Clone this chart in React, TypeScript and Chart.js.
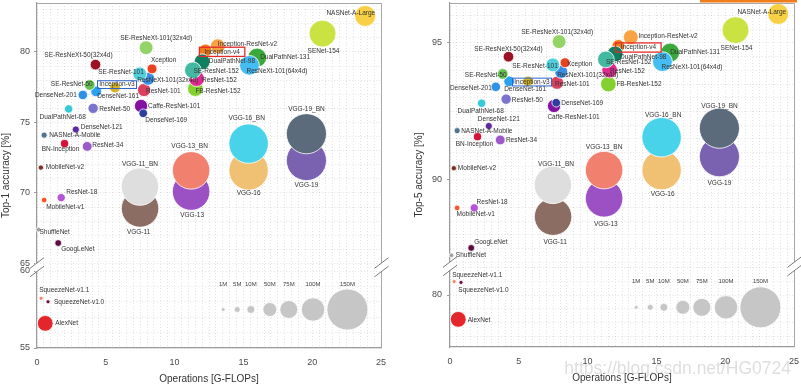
import React, { useEffect, useRef } from 'react';
import { Chart, registerables } from 'chart.js';

Chart.register(...registerables);

const FONT = '"Liberation Sans", Arial, Helvetica, sans-serif';

// ---------- data ----------
const models = [
  'AlexNet', 'SqueezeNet-v1.0', 'SqueezeNet-v1.1', 'ShuffleNet', 'GoogLeNet', 'MobileNet-v1', 'ResNet-18', 'MobileNet-v2',
  'BN-Inception', 'ResNet-34', 'NASNet-A-Mobile', 'DenseNet-121', 'DualPathNet-68', 'ResNet-50', 'DenseNet-201', 'DenseNet-161',
  'SE-ResNet-50', 'Inception-v3', 'SE-ResNeXt-50(32x4d)', 'ResNet-101', 'ResNeXt-101(32x4d)', 'SE-ResNet-101', 'Xception',
  'SE-ResNeXt-101(32x4d)', 'Caffe-ResNet-101', 'DenseNet-169', 'Inception-ResNet-v2', 'Inception-v4', 'DualPathNet-98',
  'FB-ResNet-152', 'ResNet-152', 'SE-ResNet-152', 'DualPathNet-131', 'ResNeXt-101(64x4d)', 'SENet-154', 'NASNet-A-Large',
  'VGG-11', 'VGG-11_BN', 'VGG-13', 'VGG-13_BN', 'VGG-16', 'VGG-16_BN', 'VGG-19', 'VGG-19_BN',
];

const gflops = [
  0.6, 0.8, 0.3, 0.11, 1.54, 0.52, 1.76, 0.28,
  2.0, 3.65, 0.52, 2.82, 2.3, 4.08, 3.33, 4.3,
  3.83, 5.67, 4.25, 7.78, 8.08, 7.47, 8.36,
  7.93, 7.56, 7.72, 13.14, 12.24, 12.0,
  11.51, 11.6, 11.33, 16.0, 15.44, 20.75, 23.85,
  7.49, 7.48, 11.2, 11.2, 15.38, 15.38, 19.58, 19.58,
];

const top1 = [
  56.6, 58.0, 58.23, 67.4, 66.45, 69.5, 69.67, 71.8,
  73.5, 73.3, 74.1, 74.5, 75.96, 76.0, 76.95, 77.2,
  77.66, 77.47, 79.1, 77.3, 78.1, 78.44, 78.8,
  80.3, 76.17, 75.65, 80.4, 80.1, 79.3,
  77.4, 78.1, 78.7, 79.6, 79.05, 81.3, 82.55,
  68.9, 70.45, 70.1, 71.6, 71.6, 73.5, 72.3, 74.2,
];

const top5 = [
  79.11, 80.46, 80.49, 87.25, 87.52, 88.98, 88.98, 90.43,
  91.58, 91.46, 91.8, 91.97, 92.8, 92.95, 93.4, 93.6,
  93.87, 93.6, 94.5, 93.55, 93.95, 94.2, 94.28,
  95.05, 92.7, 92.82, 95.21, 94.89, 94.6,
  93.5, 94.01, 94.4, 94.65, 94.32, 95.47, 96.06,
  88.66, 89.82, 89.33, 90.36, 90.36, 91.56, 90.85, 91.89,
];

const paramsM = [
  61, 1.2, 1.2, 2.3, 7, 4.2, 11.7, 3.5,
  11.3, 21.8, 5.3, 8, 12.6, 25.6, 20, 28.7,
  28.1, 27.2, 27.6, 44.5, 44.2, 49.3, 22.9,
  49, 44.6, 14.1, 55.8, 42.7, 61.6,
  60.2, 60.2, 66.8, 79.3, 83.5, 115.1, 88.9,
  132.9, 132.9, 133, 133, 138.4, 138.4, 143.7, 143.7,
];

// size legend
const legendLabels = ['1M', '5M', '10M', '50M', '75M', '100M', '150M'];
const legendParams = [1, 5, 10, 50, 75, 100, 150];
const legendGflops = [13.53, 14.55, 15.54, 16.92, 18.3, 20.06, 22.56];
const legendTop1 = 57.5;
const legendTop5 = 79.55;

// ---------- styles ----------
const colors = [
  '#e3262b', '#6d0f3c', '#f4866a', '#a0a0a0', '#5a0c3e', '#f2552c', '#b455d6', '#7b2e22',
  '#d5123c', '#9b59c9', '#52738c', '#5b2a9e', '#36c9d8', '#7b74cc', '#2d92e6', '#2ba2ee',
  '#68c251', '#d6b326', '#9c1224', '#d9415f', '#3a8fe3', '#4fd0dc', '#e8421f',
  '#94d466', '#8312a3', '#2f3e9e', '#f8a243', '#f27a17', '#0f7f61',
  '#84d02f', '#df2a8f', '#45b8a1', '#3aa83a', '#45bdf2', '#cbe243', '#f8d046',
  '#8c6d63', '#dedede', '#9b51c4', '#f1806f', '#f0c172', '#48d3ea', '#7b62b1', '#5b6b7b',
];

// radius (px) as a function of parameters (M)
const radiusParamAnchors = [1, 5, 10, 50, 75, 100, 120, 135, 150];
const radiusPxAnchors = [2, 3, 4, 7, 9, 11.7, 14, 19.5, 20.5];
function radiusFor(p: number): number {
  const P = radiusParamAnchors, R = radiusPxAnchors;
  if (p <= P[0]) return R[0];
  for (let k = 1; k < P.length; k++) {
    if (p <= P[k]) return R[k - 1] + (R[k] - R[k - 1]) * (p - P[k - 1]) / (P[k] - P[k - 1]);
  }
  const k = P.length - 1;
  return R[k] + (R[k] - R[k - 1]) * (p - P[k]) / (P[k] - P[k - 1]);
}

type Pos = [number, number, CanvasTextAlign];

const labelPosTop1: Record<string, Pos> = {
  'AlexNet': [10, 0, 'left'],
  'SqueezeNet-v1.0': [6, 0.5, 'left'],
  'SqueezeNet-v1.1': [-2, -8, 'left'],
  'ShuffleNet': [1, 3, 'left'],
  'GoogLeNet': [3, 6, 'left'],
  'MobileNet-v1': [2, 7, 'left'],
  'ResNet-18': [5, -5, 'left'],
  'MobileNet-v2': [5, 0, 'left'],
  'BN-Inception': [-4, 6, 'center'],
  'ResNet-34': [5, -1, 'left'],
  'NASNet-A-Mobile': [5, 0.5, 'left'],
  'DenseNet-121': [5, -2, 'left'],
  'DualPathNet-68': [-6, 8, 'center'],
  'ResNet-50': [6, 0.5, 'left'],
  'DenseNet-201': [-6, 0, 'right'],
  'DenseNet-161': [1, 5, 'left'],
  'SE-ResNet-50': [3, -1, 'right'],
  'Inception-v3': [2, -3, 'center'],
  'SE-ResNeXt-50(32x4d)': [-17, -9, 'center'],
  'ResNet-101': [2, 1, 'left'],
  'ResNeXt-101(32x4d)': [-11, 1, 'left'],
  'SE-ResNet-101': [4, -2, 'right'],
  'Xception': [-1, -9, 'left'],
  'SE-ResNeXt-101(32x4d)': [10, -10, 'center'],
  'Caffe-ResNet-101': [7, 0.5, 'left'],
  'DenseNet-169': [2, 7, 'left'],
  'Inception-ResNet-v2': [0, -2, 'left'],
  'Inception-v4': [16.7, 1.3, 'center'],
  'DualPathNet-98': [6.7, -1, 'left'],
  'FB-ResNet-152': [0, 3, 'left'],
  'ResNet-152': [5.5, 1.7, 'left'],
  'SE-ResNet-152': [0.5, 1, 'left'],
  'DualPathNet-131': [3, 0, 'left'],
  'ResNeXt-101(64x4d)': [-3, 6, 'left'],
  'SENet-154': [1, 18, 'center'],
  'NASNet-A-Large': [10, -3, 'right'],
  'VGG-11': [-1.5, 24, 'center'],
  'VGG-11_BN': [0, -22.7, 'center'],
  'VGG-13': [1, 24, 'center'],
  'VGG-13_BN': [-1.5, -24, 'center'],
  'VGG-16': [0, 23, 'center'],
  'VGG-16_BN': [-2, -25, 'center'],
  'VGG-19': [0, 25, 'center'],
  'VGG-19_BN': [0, -25, 'center'],
};

const labelPosTop5: Record<string, Pos> = {
  'AlexNet': [9.4, 1, 'left'],
  'SqueezeNet-v1.0': [-2.7, 7.7, 'left'],
  'SqueezeNet-v1.1': [-2, -6, 'left'],
  'ShuffleNet': [4.3, 0, 'left'],
  'GoogLeNet': [3, -6, 'left'],
  'MobileNet-v1': [-0.6, 6.7, 'left'],
  'ResNet-18': [2.4, -6, 'left'],
  'MobileNet-v2': [4, 0, 'left'],
  'BN-Inception': [-3, 7.6, 'center'],
  'ResNet-34': [5.7, 0.7, 'left'],
  'NASNet-A-Mobile': [4, 1, 'left'],
  'DenseNet-121': [10, -7, 'center'],
  'DualPathNet-68': [-1, 8, 'center'],
  'ResNet-50': [5.7, 1.4, 'left'],
  'DenseNet-201': [-4, 1.6, 'right'],
  'DenseNet-161': [-5, 8, 'left'],
  'SE-ResNet-50': [4, 1, 'right'],
  'Inception-v3': [4, 0.7, 'center'],
  'SE-ResNeXt-50(32x4d)': [0, -7.4, 'center'],
  'ResNet-101': [-2, 1.6, 'left'],
  'ResNeXt-101(32x4d)': [-4, 3, 'left'],
  'SE-ResNet-101': [5, 1.5, 'right'],
  'Xception': [2, 1, 'left'],
  'SE-ResNeXt-101(32x4d)': [-2, -9.4, 'center'],
  'Caffe-ResNet-101': [-6.6, 10.7, 'left'],
  'DenseNet-169': [5, 0, 'left'],
  'Inception-ResNet-v2': [7.6, -1.3, 'left'],
  'Inception-v4': [20, 1.5, 'center'],
  'DualPathNet-98': [5, 3, 'left'],
  'FB-ResNet-152': [8, 0.3, 'left'],
  'ResNet-152': [0.5, 0.7, 'left'],
  'SE-ResNet-152': [0, 2.7, 'left'],
  'DualPathNet-131': [0, 0, 'left'],
  'ResNeXt-101(64x4d)': [-1, 5.6, 'left'],
  'SENet-154': [1, 18.3, 'center'],
  'NASNet-A-Large': [8, -1.7, 'right'],
  'VGG-11': [2, 25.3, 'center'],
  'VGG-11_BN': [3, -21, 'center'],
  'VGG-13': [1.7, 25.7, 'center'],
  'VGG-13_BN': [0, -23, 'center'],
  'VGG-16': [1, 24, 'center'],
  'VGG-16_BN': [1.5, -22, 'center'],
  'VGG-19': [0, 26.7, 'center'],
  'VGG-19_BN': [0, -22, 'center'],
};

const boxedLabels: Record<string, { color: string; padX: number; padY: number; lw: number }> = {
  'Inception-v3': { color: '#2f64c9', padX: 1.8, padY: 0.5, lw: 1 },
  'Inception-v4': { color: '#e32b2b', padX: 5, padY: 1.2, lw: 1.3 },
};

interface PanelCfg {
  canvasW: number;
  padRight: number;
  yAxisW: number;
  xAxisH: number;
  values: number[];
  split: number;
  upper: [number, number, number];
  lower: [number, number, number];
  weights: [number, number];
  title: string;
  titleX: number;
  xTitleY: number;
  legendY: number;
  labels: Record<string, Pos>;
  tickPad: number;
  extras: boolean;
}

const leftPanel: PanelCfg = {
  canvasW: 392, padRight: 11, yAxisW: 37, xAxisH: 40,
  values: top1, split: 62,
  upper: [64.75, 83.47, 1], lower: [55, 60.26, 1], weights: [264, 81],
  title: 'Top-1 accuracy [%]', titleX: 6.5, xTitleY: 379.5,
  legendY: legendTop1, labels: labelPosTop1, tickPad: 4, extras: false,
};

const rightPanel: PanelCfg = {
  canvasW: 409, padRight: 7, yAxisW: 58, xAxisH: 41,
  values: top5, split: 84,
  upper: [86.86, 96.46, 0.5], lower: [78.1, 81.06, 0.5], weights: [263, 81],
  title: 'Top-5 accuracy [%]', titleX: 27.5, xTitleY: 378.5,
  legendY: legendTop5, labels: labelPosTop5, tickPad: 5, extras: true,
};

function range(a: number, b: number, step: number): number[] {
  const start = Math.ceil(a / step - 1e-9) * step;
  const end = Math.floor(b / step + 1e-9) * step;
  const n = Math.round((end - start) / step);
  const out: number[] = [];
  for (let k = 0; k <= n; k++) out.push(+(start + k * step).toFixed(4));
  return out;
}

const GRID_COLOR = 'rgba(0,0,0,0.11)';
const AXIS_COLOR = '#9a9a9a';
const TICK_COLOR = '#4a4a4a';

function yScale(panel: PanelCfg, which: 'upper' | 'lower') {
  const [min, max, step] = panel[which];
  return {
    type: 'linear',
    position: 'left',
    stack: 'ybreak',
    stackWeight: which === 'upper' ? panel.weights[0] : panel.weights[1],
    weight: which === 'upper' ? 1 : 0,
    min, max,
    afterBuildTicks: (s: any) => { s.ticks = range(min, max, step).map((v) => ({ value: v })); },
    afterFit: (s: any) => {
      s.width = panel.yAxisW;
      s.paddingTop = 0; s.paddingBottom = 0; s.paddingLeft = 0; s.paddingRight = 0;
    },
    ticks: {
      autoSkip: false,
      padding: panel.tickPad,
      color: TICK_COLOR,
      font: { family: FONT, size: 9 },
      callback: (v: number) => (Math.abs(v % 5) < 1e-6 ? String(v) : ''),
    },
    grid: {
      color: GRID_COLOR,
      lineWidth: 1,
      tickLength: 3,
      tickColor: (c: any) => (c.tick && Math.abs(c.tick.value % 5) < 1e-6 ? AXIS_COLOR : 'transparent'),
    },
    border: { color: AXIS_COLOR, width: 1.2, dash: [1, 2] },
  };
}

function drawBreak(ctx: CanvasRenderingContext2D, x: number, y: number) {
  ctx.save();
  ctx.fillStyle = '#ffffff';
  ctx.fillRect(x - 2, y - 4, 4, 8.5);
  ctx.strokeStyle = '#7a7a7a';
  ctx.lineWidth = 1;
  for (const oy of [-4, 4.5]) {
    ctx.beginPath();
    ctx.moveTo(x - 7, y + oy + 5.3);
    ctx.lineTo(x + 7, y + oy - 5.3);
    ctx.stroke();
  }
  ctx.restore();
}

function buildConfig(panel: PanelCfg): any {
  const idx = models.map((_, i) => i);
  const hiIdx = idx.filter((i) => panel.values[i] >= panel.split);
  const loIdx = idx.filter((i) => panel.values[i] < panel.split);
  const toPoint = (i: number) => ({ x: gflops[i], y: panel.values[i], r: radiusFor(paramsM[i]) });

  const decor = {
    id: 'decor',
    afterDatasetsDraw(chart: any) {
      const ctx: CanvasRenderingContext2D = chart.ctx;
      ctx.save();
      ctx.font = `6.5px ${FONT}`;
      ctx.fillStyle = '#333333';
      ctx.textBaseline = 'middle';
      const groups: [number, number[]][] = [[0, hiIdx], [1, loIdx]];
      for (const [di, list] of groups) {
        const meta = chart.getDatasetMeta(di);
        meta.data.forEach((el: any, k: number) => {
          const name = models[list[k]];
          const pos = panel.labels[name] || [5, 0, 'left'];
          const [dx, dy, align] = pos;
          const tx = el.x + dx, ty = el.y + dy;
          ctx.textAlign = align;
          ctx.fillStyle = '#333333';
          ctx.fillText(name, tx, ty);
          const box = boxedLabels[name];
          if (box) {
            const w = ctx.measureText(name).width;
            const left = align === 'center' ? tx - w / 2 : align === 'right' ? tx - w : tx;
            ctx.strokeStyle = box.color;
            ctx.lineWidth = box.lw;
            ctx.strokeRect(left - box.padX, ty - 3.4 - box.padY, w + 2 * box.padX, 6.8 + 2 * box.padY);
          }
        });
      }
      // size legend labels
      const lmeta = chart.getDatasetMeta(2);
      ctx.font = `6px ${FONT}`;
      ctx.fillStyle = '#444444';
      ctx.textAlign = 'center';
      lmeta.data.forEach((el: any, k: number) => {
        ctx.fillText(legendLabels[k], el.x, el.y - 25.5);
      });
      ctx.restore();
    },
    afterDraw(chart: any) {
      const ctx: CanvasRenderingContext2D = chart.ctx;
      const a = chart.chartArea;
      ctx.save();
      // top & right frame
      ctx.strokeStyle = '#a8a8a8';
      ctx.lineWidth = 1;
      ctx.beginPath();
      ctx.moveTo(a.left, a.top + 0.5);
      ctx.lineTo(a.right + 0.5, a.top + 0.5);
      ctx.lineTo(a.right + 0.5, a.bottom);
      ctx.stroke();
      // axis breaks
      const yb = chart.scales.yHigh.bottom;
      drawBreak(ctx, a.left, yb);
      drawBreak(ctx, a.right + 0.5, yb);
      // titles
      ctx.fillStyle = '#333333';
      ctx.font = `10px ${FONT}`;
      ctx.textAlign = 'center';
      ctx.textBaseline = 'middle';
      ctx.fillText('Operations [G-FLOPs]', (a.left + a.right) / 2, panel.xTitleY);
      ctx.save();
      ctx.translate(panel.titleX, (a.top + a.bottom) / 2);
      ctx.rotate(-Math.PI / 2);
      ctx.fillText(panel.title, 0, 0);
      ctx.restore();
      if (panel.extras) {
        ctx.fillStyle = '#f07d1a';
        ctx.fillRect(308, 0, 97, 2.5);
        ctx.font = `17.5px ${FONT}`;
        ctx.fillStyle = 'rgba(160,160,160,0.35)';
        ctx.textAlign = 'right';
        ctx.fillText('https://blog.csdn.net/HG0724', 399, 369);
      }
      ctx.restore();
    },
  };

  return {
    type: 'bubble',
    data: {
      datasets: [
        {
          label: 'high',
          xAxisID: 'x', yAxisID: 'yHigh',
          data: hiIdx.map(toPoint),
          backgroundColor: hiIdx.map((i) => colors[i]),
          borderColor: '#ffffff', borderWidth: 0.8, clip: false,
        },
        {
          label: 'low',
          xAxisID: 'x', yAxisID: 'yLow',
          data: loIdx.map(toPoint),
          backgroundColor: loIdx.map((i) => colors[i]),
          borderColor: '#ffffff', borderWidth: 0.8, clip: false,
        },
        {
          label: 'size legend',
          xAxisID: 'x', yAxisID: 'yLow',
          data: legendGflops.map((g, k) => ({ x: g, y: panel.legendY, r: radiusFor(legendParams[k]) })),
          backgroundColor: '#c6c6c6',
          borderColor: '#ffffff', borderWidth: 0.8, clip: false,
        },
      ],
    },
    options: {
      responsive: false,
      maintainAspectRatio: false,
      animation: false,
      events: [],
      layout: { autoPadding: false, padding: { top: 3, right: panel.padRight, left: 0, bottom: 0 } },
      plugins: { legend: { display: false }, tooltip: { enabled: false } },
      scales: {
        x: {
          type: 'linear', position: 'bottom', min: 0, max: 25,
          afterBuildTicks: (s: any) => { s.ticks = range(0, 25, 0.5).map((v) => ({ value: v })); },
          afterFit: (s: any) => {
            s.height = panel.xAxisH;
            s.paddingTop = 0; s.paddingBottom = 0; s.paddingLeft = 0; s.paddingRight = 0;
          },
          ticks: {
            autoSkip: false, maxRotation: 0, padding: 5,
            color: TICK_COLOR, font: { family: FONT, size: 9 },
            callback: (v: number) => (Math.abs(v % 5) < 1e-6 ? String(v) : ''),
          },
          grid: { color: GRID_COLOR, lineWidth: 1, tickLength: 4, tickColor: 'transparent' },
          border: { color: AXIS_COLOR, width: 1.2, dash: [1, 2] },
        },
        yLow: yScale(panel, 'lower'),
        yHigh: yScale(panel, 'upper'),
      },
    },
    plugins: [decor],
  };
}

function Panel({ panel }: { panel: PanelCfg }) {
  const ref = useRef<HTMLCanvasElement | null>(null);
  useEffect(() => {
    if (!ref.current) return;
    const chart = new Chart(ref.current, buildConfig(panel));
    return () => chart.destroy();
  }, [panel]);
  return (
    <canvas
      ref={ref}
      width={panel.canvasW}
      height={388}
      style={{ display: 'block', width: panel.canvasW, height: 388 }}
    />
  );
}

export default function App() {
  return (
    <div style={{ position: 'absolute', left: 0, top: 0, width: 801, height: 388, display: 'flex', background: '#ffffff' }}>
      <Panel panel={leftPanel} />
      <Panel panel={rightPanel} />
    </div>
  );
}
